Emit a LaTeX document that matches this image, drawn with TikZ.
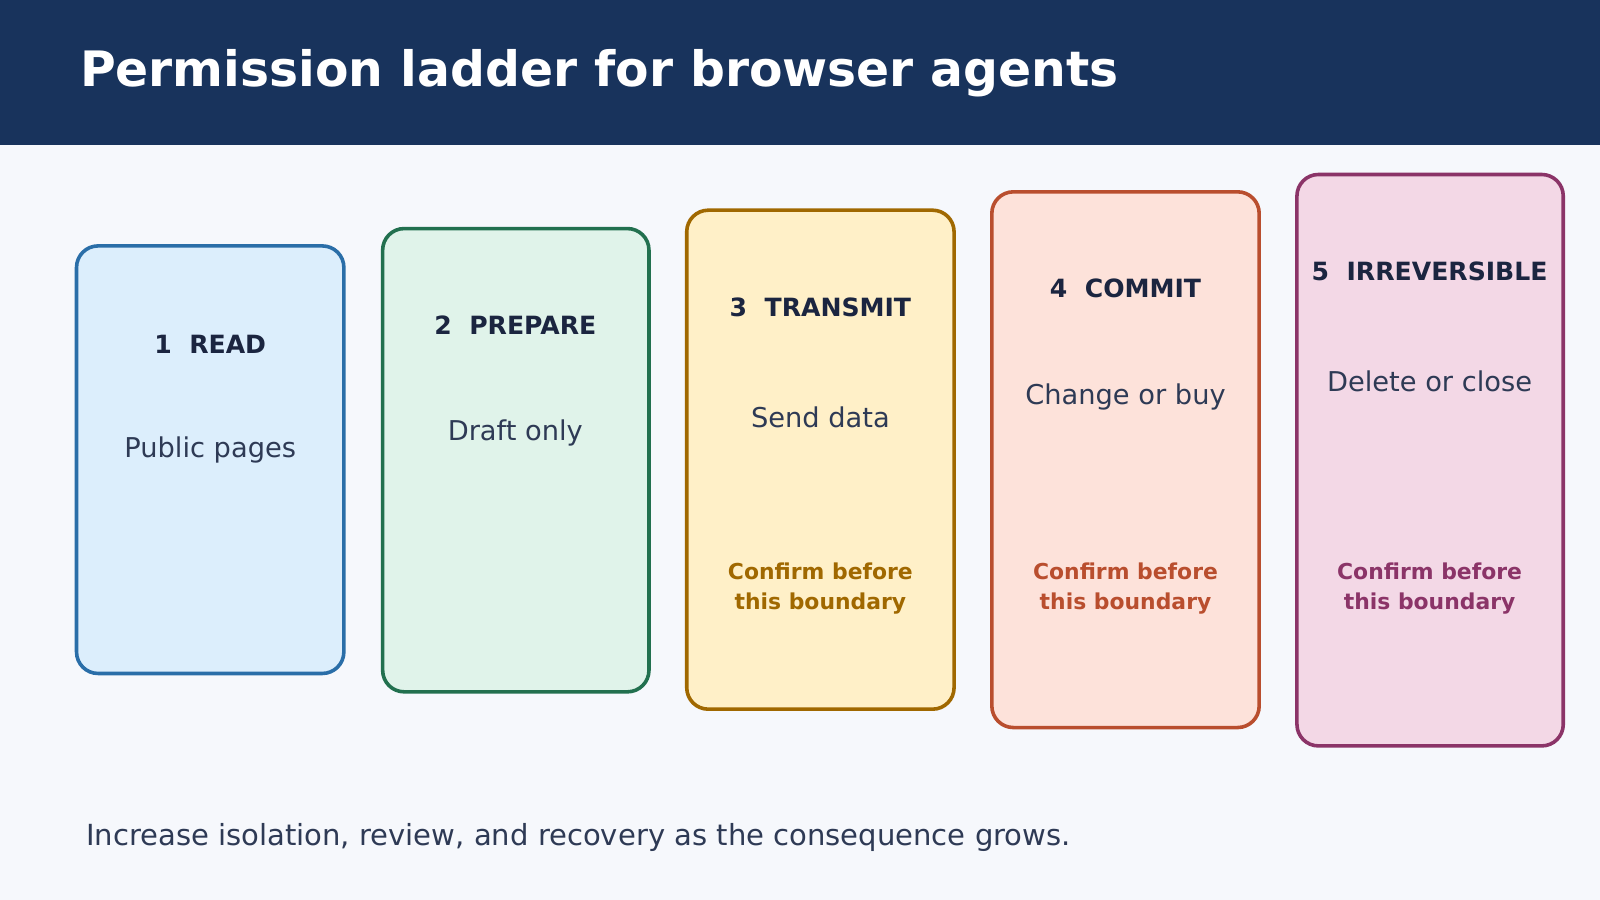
\documentclass[tikz,border=0pt]{standalone}
\usepackage{fontspec}
\setmainfont{DejaVu Sans}
\usetikzlibrary{positioning}
\definecolor{band}{HTML}{18335C}
\definecolor{page}{HTML}{F6F8FC}
\definecolor{ink}{HTML}{1B2540}
\definecolor{body}{HTML}{2E3A55}
\definecolor{bA}{HTML}{2A6EA8}\definecolor{fA}{HTML}{DCEEFC}
\definecolor{bB}{HTML}{22704F}\definecolor{fB}{HTML}{E0F3EA}
\definecolor{bC}{HTML}{A06800}\definecolor{fC}{HTML}{FFF0C8}
\definecolor{bD}{HTML}{B94E2E}\definecolor{fD}{HTML}{FDE2DA}
\definecolor{bE}{HTML}{8B3468}\definecolor{fE}{HTML}{F3D8E6}
\tikzset{
  card/.style={draw=#1, line width=1pt, rounded corners=6pt},
  rung/.style={font=\fontsize{7}{8}\selectfont\bfseries, text=ink},
  what/.style={font=\fontsize{7.6}{9}\selectfont, text=body},
  gate/.style={font=\fontsize{6.1}{8.3}\selectfont\bfseries, text=#1, align=center}
}
\begin{document}
\begin{tikzpicture}[x=0.01cm, y=-0.01cm]
    \fill[page] (0,0) rectangle (1568,882);
    \fill[band] (0,0) rectangle (1568,142);
    \node[anchor=west, text=white, font=\fontsize{13.6}{16}\selectfont\bfseries] (title) at (66,72) {Permission ladder for browser agents};

    \draw[card=bA, fill=fA] (75,241) rectangle (337,660);
    \draw[card=bB, fill=fB] (375,224) rectangle (636,678);
    \draw[card=bC, fill=fC] (673,206) rectangle (935,695);
    \draw[card=bD, fill=fD] (972,188) rectangle (1234,713);
    \draw[card=bE, fill=fE] (1271,171) rectangle (1532,731);

    \node[rung] (read) at (206,337) {1\ \ READ};
    \node[rung] (prepare) at (505,319) {2\ \ PREPARE};
    \node[rung] (transmit) at (804,301) {3\ \ TRANSMIT};
    \node[rung] (commit) at (1103,283) {4\ \ COMMIT};
    \node[rung] (irrev) at (1401,266) {5\ \ IRREVERSIBLE};

    \node[what] (pages) at (206,441) {Public pages};
    \node[what] (draft) at (505,424) {Draft only};
    \node[what] (send) at (804,409) {Send data};
    \node[what] (buy) at (1103,389) {Change or buy};
    \node[what] (delete) at (1401,374) {Delete or close};

    \node[gate=bC] (gateC) at (804,577) {Confirm before\\this boundary};
    \node[gate=bD] (gateD) at (1103,577) {Confirm before\\this boundary};
    \node[gate=bE] (gateE) at (1401,577) {Confirm before\\this boundary};

    \node[anchor=west, text=body, font=\fontsize{8.1}{10}\selectfont] (note) at (72,821) {Increase isolation, review, and recovery as the consequence grows.};
\end{tikzpicture}
\end{document}
